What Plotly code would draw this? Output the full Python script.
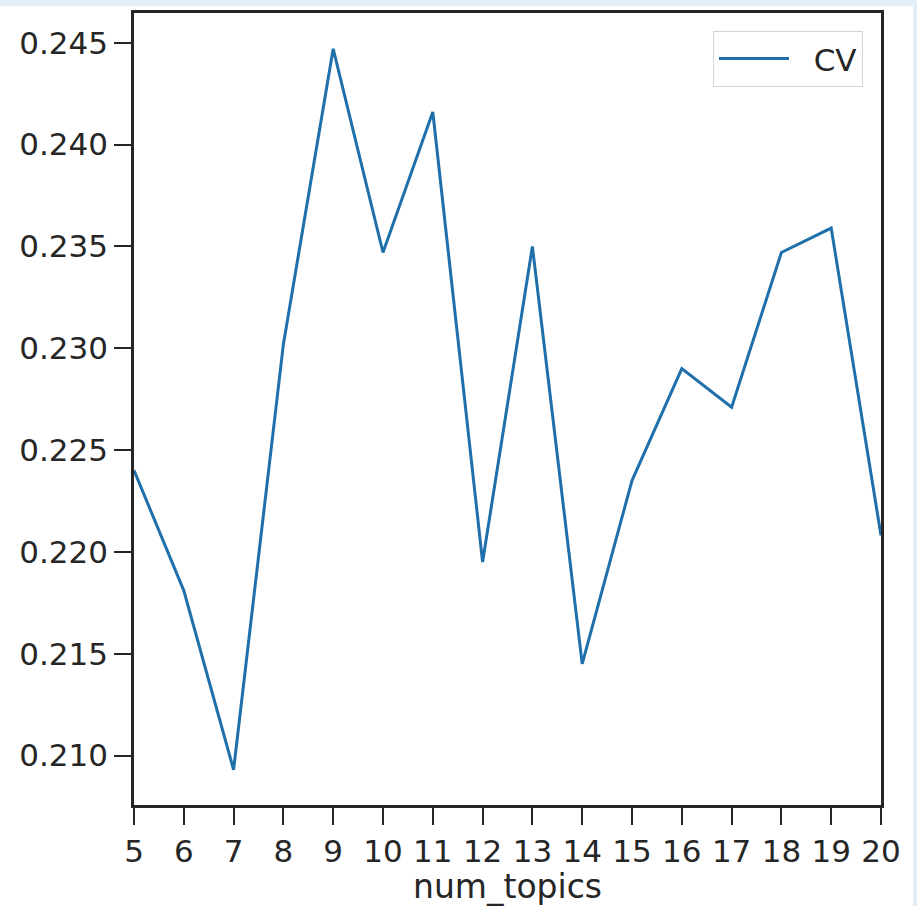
import plotly.graph_objects as go

num_topics = list(range(5, 21))
cv_values = [0.2240, 0.2181, 0.2093, 0.2302, 0.2447, 0.2347, 0.2416, 0.2195,
             0.2350, 0.2145, 0.2235, 0.2290, 0.2271, 0.2347, 0.2359, 0.2208]
y_tick_vals = [0.210, 0.215, 0.220, 0.225, 0.230, 0.235, 0.240, 0.245]
y_tick_text = ["0.210", "0.215", "0.220", "0.225", "0.230", "0.235", "0.240", "0.245"]
series_name = "CV"

W, H = 917, 906
L, R, T, B = 134, 36, 10, 96
pw, ph = W - L - R, H - T - B

fig = go.Figure()
fig.add_trace(go.Scatter(
    x=num_topics, y=cv_values, mode="lines", name="\u00a0\u00a0" + series_name,
    line=dict(color="#1f6fab", width=3),
))

axis_common = dict(
    showline=True, linecolor="#262626", linewidth=2.5, mirror=True,
    ticks="outside", ticklen=17, tickwidth=2, tickcolor="#262626",
    showgrid=False, zeroline=False,
    tickfont=dict(family="DejaVu Sans", size=31, color="#262626"),
)

fig.update_xaxes(
    range=[5, 20], tickmode="array", tickvals=num_topics,
    ticktext=[str(v) for v in num_topics],
    title=dict(text="num_topics", font=dict(family="DejaVu Sans", size=33, color="#262626"), standoff=4),
    **axis_common,
)
fig.update_yaxes(
    range=[0.20757, 0.24646], tickmode="array", tickvals=y_tick_vals,
    ticktext=y_tick_text,
    **axis_common,
)

frame_blue = "#e4eef9"
fig.update_layout(
    width=W, height=H,
    margin=dict(l=L, r=R, t=T, b=B, pad=0),
    paper_bgcolor="white", plot_bgcolor="white",
    showlegend=True,
    legend=dict(
        x=(863 - L) / pw, y=(H - B - 28) / ph, xanchor="right", yanchor="top",
        bgcolor="white", bordercolor="#d4d4d4", borderwidth=1,
        itemwidth=70,
        font=dict(family="DejaVu Sans", size=31, color="#262626"),
    ),
    shapes=[
        dict(type="rect", xref="paper", yref="paper", layer="below",
             x0=-0.5, x1=1.5, y0=(H - B - 3) / ph, y1=1.5,
             fillcolor=frame_blue, line=dict(width=0)),
        dict(type="rect", xref="paper", yref="paper", layer="below",
             x0=(913 - L) / pw, x1=1.5, y0=-0.5, y1=1.5,
             fillcolor=frame_blue, line=dict(width=0)),
    ],
)

fig.write_html(
    "out.html",
    config={"displayModeBar": False},
    post_script="document.body.style.margin='0';document.body.style.padding='0';",
)
